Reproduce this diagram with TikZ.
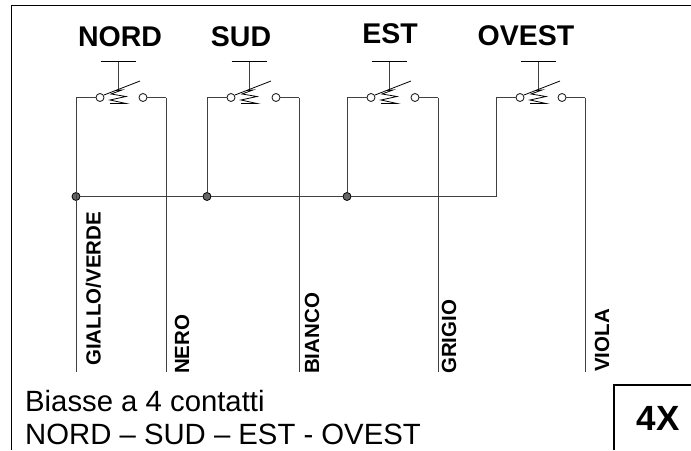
\documentclass[tikz,border=0pt]{standalone}
\usepackage{fontspec}
\setmainfont{Liberation Sans}
\tikzset{
  x=1pt,y=-1pt,
  wire/.style={line width=1pt,black!75},
  frameline/.style={line width=1.7pt,black},
  term/.style={circle,draw=black!85,line width=0.9pt,fill=white,minimum size=8pt,inner sep=0pt},
  junct/.style={circle,draw=black,line width=0.8pt,fill=black!60,minimum size=8pt,inner sep=0pt},
  head/.style={font=\fontsize{28.5}{32}\selectfont\bfseries,anchor=center,inner sep=0pt},
  vlabel/.style={font=\fontsize{20.5}{24}\selectfont\bfseries,rotate=90,anchor=west,inner sep=0pt},
  desc/.style={font=\fontsize{29.3}{34}\selectfont,anchor=base west,inner sep=0pt},
}
\newcommand{\pushsw}[3]{% name, left wire x, right wire x
  \pgfmathsetmacro{\mx}{#2+42}
  \node[term] (#1a) at (#2+24,97.5) {};
  \node[term] (#1b) at (#3-23,97.5) {};
  \coordinate (#1tl) at (#2,97.5);
  \coordinate (#1tr) at (#3,97.5);
  \coordinate (#1s) at (\mx,90);
  \coordinate (#1t) at (\mx,61);
  \coordinate (#1bl) at (\mx-17.5,61);
  \coordinate (#1br) at (\mx+17.5,61);
  \draw[wire] (#1t) -- (#1s);
  \draw[wire,black,line width=0.8pt] (#1bl) -- (#1br);
  \draw[wire] (#1tl) -- (#1a);
  \draw[wire] (#1b) -- (#1tr);
  \draw[black,line width=0.8pt] (#2+28,95) -- (#2+64,81);
  \draw[black,line width=0.8pt] (\mx-3,90.5) -- (\mx+4,90) -- (\mx-7,94) -- (\mx+8,96.5) -- (\mx-8,100) -- (\mx+8,103.5) -- (\mx-8,103.5);
}
\begin{document}
\begin{tikzpicture}
\useasboundingbox (0,0) rectangle (691,450);
\draw[frameline] (691,5.5) -- (11.5,5.5) -- (11.5,450);
\pushsw{n}{76}{166}
\pushsw{s}{207}{299}
\pushsw{e}{347}{438}
\pushsw{o}{496}{585}
\node[junct] (j1) at (76,196.5) {};
\node[junct] (j2) at (207,196.5) {};
\node[junct] (j3) at (347,196.5) {};
\coordinate (busend) at (496,196.5);
\coordinate (nl) at (76,372);
\coordinate (nr) at (166,372);
\coordinate (sr) at (299,372);
\coordinate (er) at (438,372);
\coordinate (or) at (585,372);
\draw[wire] (ntl) -- (nl);
\draw[wire] (ntr) -- (nr);
\draw[wire] (stl) -- (j2);
\draw[wire] (str) -- (sr);
\draw[wire] (etl) -- (j3);
\draw[wire] (etr) -- (er);
\draw[wire] (otr) -- (or);
\draw[wire] (j1) -- (j2) -- (j3) -- (busend) -- (otl);
\node[head] (tn) at (120,37) {NORD};
\node[head] (ts) at (241,37) {SUD};
\node[head] (te) at (390,34) {EST};
\node[head] (to) at (526,36) {OVEST};
\node[vlabel,anchor=base west] (l1) at (100.5,366) {GIALLO/VERDE};
\node[vlabel,anchor=base west] (l2) at (189,374) {NERO};
\node[vlabel,anchor=base west] (l3) at (319,374) {BIANCO};
\node[vlabel,anchor=base west] (l4) at (456,374) {GRIGIO};
\node[vlabel,anchor=base west] (l5) at (609,372) {VIOLA};
\node[desc] (d1) at (25,411) {Biasse a 4 contatti};
\node[desc] (d2) at (25,444) {NORD – SUD – EST - OVEST};
\draw[frameline] (614,450) -- (614,385) -- (691,385);
\node[font=\fontsize{35}{40}\selectfont\bfseries,inner sep=0pt] (x4) at (658,418.5) {4X};
\end{tikzpicture}
\end{document}
